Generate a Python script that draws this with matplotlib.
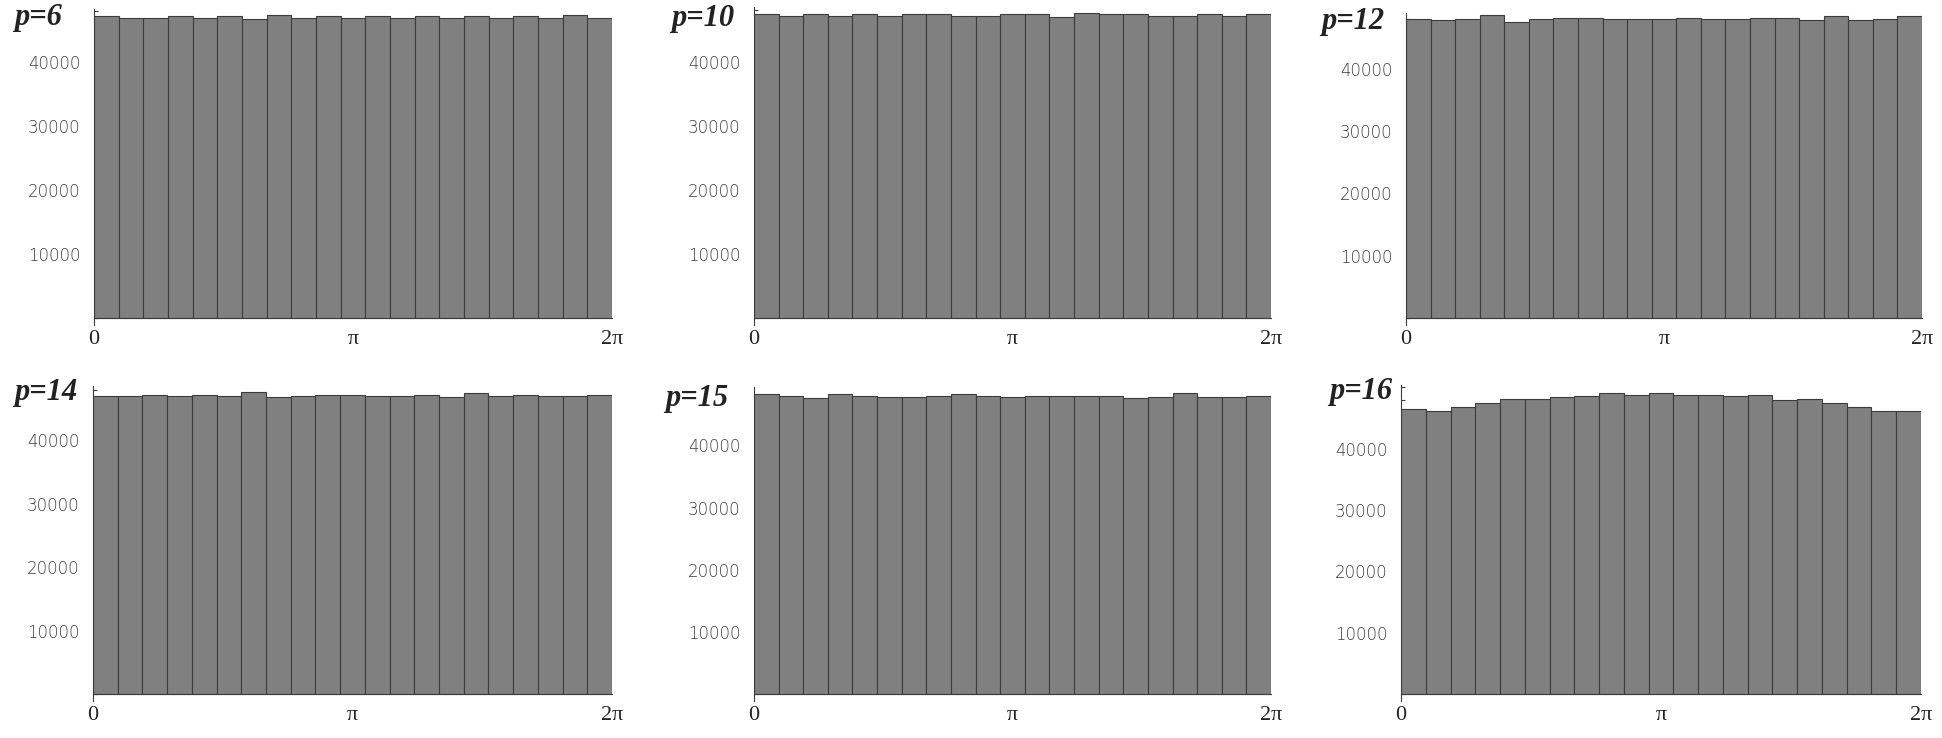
import numpy as np
import matplotlib
matplotlib.use('Agg')
import matplotlib.pyplot as plt
from matplotlib.ticker import FixedLocator, MultipleLocator

W, H = 1942, 738

# counts per bin (21 bins over 0..2pi)
panel_names = ['p=6', 'p=10', 'p=12', 'p=14', 'p=15', 'p=16']
counts_p6 = [47160, 46800, 46800, 47160, 46800, 47160, 46640, 47320, 46800, 47160, 46800,
             47160, 46800, 47160, 46800, 47160, 46800, 47160, 46800, 47320, 46800]
counts_p10 = [47390, 47080, 47390, 47080, 47390, 47080, 47390, 47390, 47080, 47080, 47390,
              47390, 46920, 47550, 47390, 47390, 47080, 47080, 47390, 47080, 47390]
counts_p12 = [47920, 47750, 47920, 48560, 47430, 47920, 48080, 48080, 47920, 47920, 47920,
              48080, 47920, 47920, 48080, 48080, 47750, 48400, 47750, 47920, 48400]
counts_p14 = [46930, 46930, 47090, 46930, 47090, 46930, 47570, 46770, 46930, 47090, 47090,
              46930, 46930, 47090, 46770, 47410, 46930, 47090, 46930, 46930, 47090]
counts_p15 = [48210, 47880, 47560, 48210, 47880, 47720, 47720, 47880, 48210, 47880, 47720,
              47880, 47880, 47880, 47880, 47560, 47720, 48370, 47720, 47720, 47880]
counts_p16 = [46380, 46060, 46710, 47360, 48020, 48020, 48350, 48510, 49000, 48670, 49000,
              48670, 48670, 48510, 48670, 47860, 48020, 47360, 46710, 46060, 46060]
all_counts = [counts_p6, counts_p10, counts_p12, counts_p14, counts_p15, counts_p16]
y_tops = [48200, 48590, 48890, 48570, 49340, 50370]

edges = np.linspace(0, 2 * np.pi, 22)
x_ticks = [0, np.pi, 2 * np.pi]
x_labels = ['0', 'π', '2π']
y_ticks = [10000, 20000, 30000, 40000]

# pixel geometry: left, right, baseline, top, label x, label baseline
geom = [
    (94, 612, 318, 9.3, 14, 25),
    (754, 1271, 318, 6.7, 671, 26),
    (1406, 1922, 318, 13.3, 1321, 29),
    (93, 612, 694, 386, 14, 400),
    (754, 1271, 694, 387.3, 665, 406),
    (1401, 1921, 694, 385, 1329, 399),
]
STUB = 7  # y-axis runs a little below zero

fig = plt.figure(figsize=(W / 100, H / 100), dpi=100)
fig.patch.set_facecolor('white')

for name, counts, ymax, (l, r, base, top, tx, ty) in zip(panel_names, all_counts, y_tops, geom):
    h = base - top
    ax = fig.add_axes([l / W, 1 - (base + STUB) / H, (r - l) / W, (h + STUB) / H])
    ax.bar(edges[:-1], counts, width=np.diff(edges), align='edge',
           color='#808080', edgecolor='#3c3c3c', linewidth=0.8)
    ax.set_xlim(0, 2 * np.pi)
    ax.set_ylim(-ymax * STUB / h, ymax)
    ax.set_axisbelow(True)
    for s in ['top', 'right']:
        ax.spines[s].set_visible(False)
    ax.spines['bottom'].set_position(('data', 0))
    for s in ['left', 'bottom']:
        ax.spines[s].set_color('#3c3c3c')
        ax.spines[s].set_linewidth(0.8)
    ax.set_xticks(x_ticks)
    ax.set_xticklabels(x_labels, family='Liberation Serif', fontsize=16, color='#222222')
    ax.tick_params(axis='x', length=0, pad=9)
    ax.yaxis.set_major_locator(FixedLocator(y_ticks))
    ax.yaxis.set_minor_locator(MultipleLocator(2000))
    ax.set_yticklabels([str(v) for v in y_ticks], family='DejaVu Sans', fontsize=11.9,
                       color='#3a3a3a', fontweight='light')
    ax.tick_params(axis='y', which='major', direction='in', length=4, width=0.8,
                   color='#3c3c3c', pad=9.5)
    ax.tick_params(axis='y', which='minor', direction='in', length=3, width=0.8,
                   color='#3c3c3c')
    ax.set_facecolor('none')
    fig.text(tx / W, 1 - ty / H, name, family='Liberation Serif', fontsize=22,
             fontweight='bold', fontstyle='italic', color='#222222', va='baseline', ha='left')

plt.savefig('out.png', dpi=100)
